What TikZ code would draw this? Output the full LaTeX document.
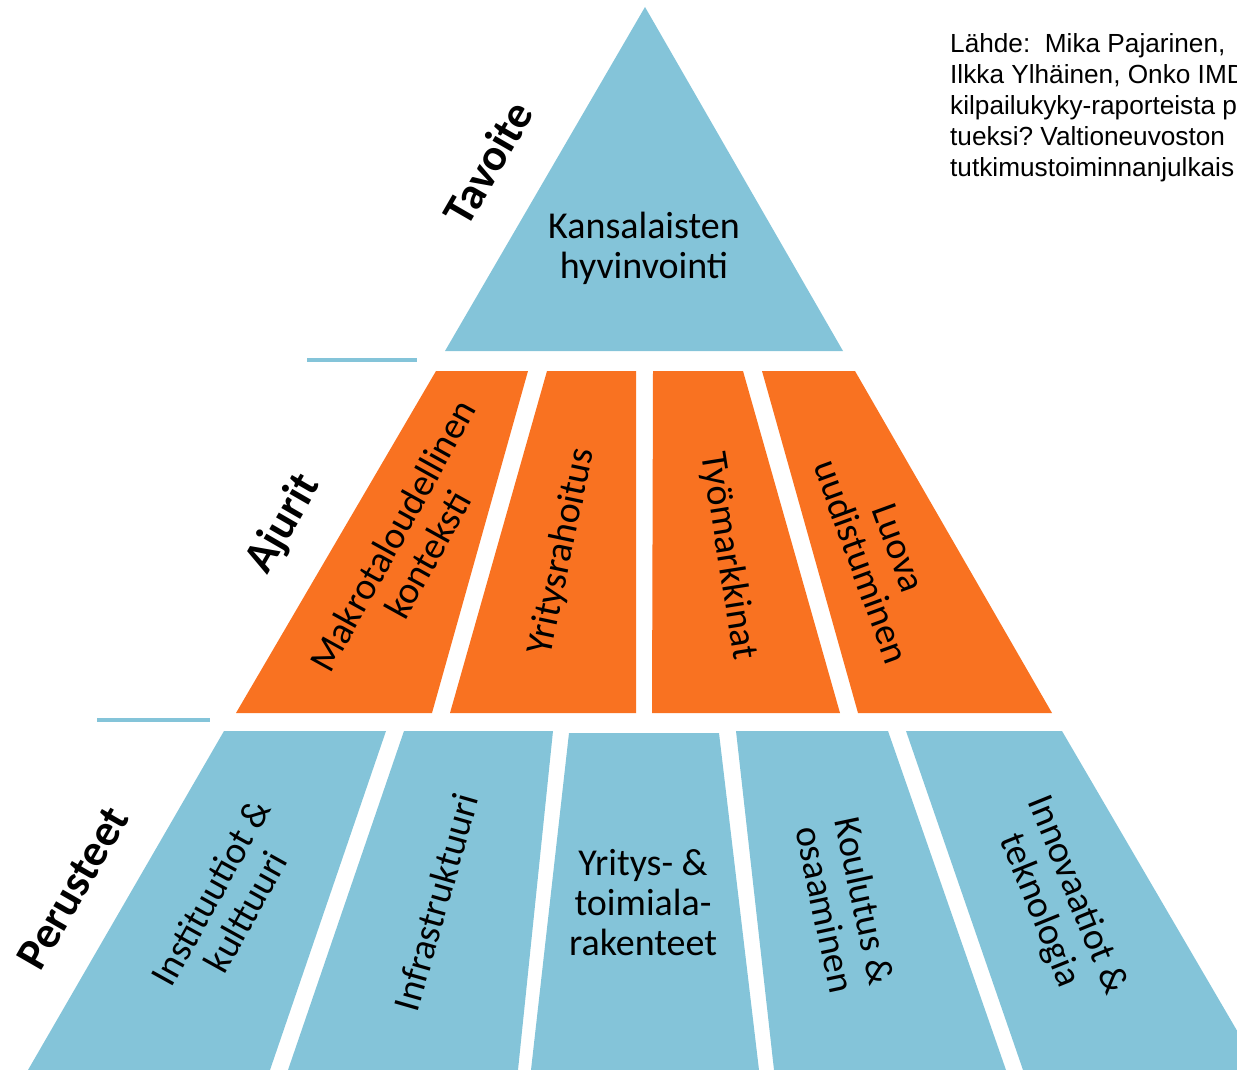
\documentclass[tikz,border=0pt]{standalone}
\usepackage{fontspec}
\setmainfont{Carlito}
\newfontfamily\srcfont{Liberation Sans}
\definecolor{pblue}{RGB}{132,196,217}
\definecolor{porange}{RGB}{249,114,33}
\begin{document}
\frenchspacing
\begin{tikzpicture}[x=1pt,y=-1pt,
  lbl/.style={font=\fontsize{38}{40}\selectfont, align=center, inner sep=0pt, text=black},
  lvl/.style={font=\fontsize{45}{48}\selectfont\bfseries, inner sep=0pt, rotate=60},
  sepline/.style={draw=pblue, line width=4pt},
  bluepiece/.style={fill=pblue},
  orangepiece/.style={fill=porange}]
\useasboundingbox (0,0) rectangle (1237,1070);
\clip (0,0) rectangle (1237,1070);
% top triangle
\fill[bluepiece] (645,7) -- (843,351) -- (445,351) -- cycle;
% orange band
\fill[orangepiece] (436,371) -- (528,371) -- (432,713) -- (236,713) -- cycle;
\fill[orangepiece] (547,371) -- (636,371) -- (636,713) -- (450,713) -- cycle;
\fill[orangepiece] (653,371) -- (743,371) -- (840,713) -- (652,713) -- cycle;
\fill[orangepiece] (762,371) -- (855,371) -- (1052,713) -- (858,713) -- cycle;
% blue band
\fill[bluepiece] (224,731) -- (386,731) -- (270,1070) -- (28,1070) -- cycle;
\fill[bluepiece] (404,731) -- (553,731) -- (518,1070) -- (288,1070) -- cycle;
\fill[bluepiece] (569,733) -- (719,733) -- (759,1070) -- (531,1070) -- cycle;
\fill[bluepiece] (736,731) -- (888,731) -- (1006,1070) -- (774,1070) -- cycle;
\fill[bluepiece] (906,731) -- (1062,731) -- (1260,1070) -- (1023,1070) -- cycle;
% separator lines
\coordinate (s1a) at (307,360); \coordinate (s1b) at (417,360);
\coordinate (s2a) at (97,720);  \coordinate (s2b) at (210,720);
\draw[sepline] (s1a) -- (s1b);
\draw[sepline] (s2a) -- (s2b);
% level labels
\node[lvl] (tavoite) at (488,163) {Tavoite};
\node[lvl] (ajurit) at (284,524) {Ajurit};
\node[lvl] (perusteet) at (73,888) {Perusteet};
% texts
\node[lbl] (kans) at (644,248) {Kansalaisten\\hyvinvointi};
\node[lbl, rotate=61] (makro) at (410,545) {Makrotaloudellinen\\konteksti};
\node[lbl, rotate=78] (yrahoitus) at (562,552) {Yritysrahoitus};
\node[lbl, rotate=-81] (tyom) at (728,556) {Työmarkkinat};
\node[lbl, rotate=-70] (luova) at (880,555) {Luova\\uudistuminen};
\node[lbl, rotate=61] (inst) at (228,902) {Instituutiot \&\\kulttuuri};
\node[lbl, rotate=74] (infra) at (436,902) {Infrastruktuuri};
\node[lbl] (yritys) at (643,903) {Yritys- \&\\toimiala-\\rakenteet};
\node[lbl, rotate=-78] (koul) at (845,905) {Koulutus \&\\osaaminen};
\node[lbl, rotate=-68] (innov) at (1058,903) {Innovaatiot \&\\teknologia};
% source
\node[anchor=north west, inner sep=0pt, align=left, font=\srcfont\fontsize{26.2}{31}\selectfont] (src) at (950,33)
  {Lähde:\ \ Mika Pajarinen,\\Ilkka Ylhäinen, Onko IMD\\kilpailukyky-raporteista p\\tueksi? Valtioneuvoston\\tutkimustoiminnanjulkais};
\end{tikzpicture}
\end{document}
